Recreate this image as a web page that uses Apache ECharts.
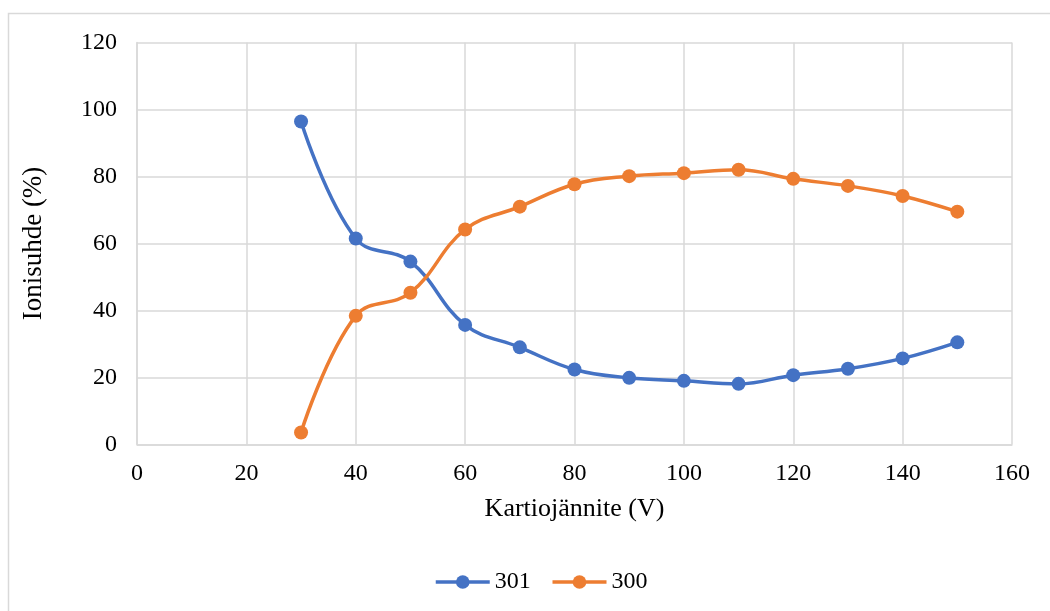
<!DOCTYPE html>
<html>
<head>
<meta charset="utf-8">
<style>
  html, body { margin: 0; padding: 0; background: #fff; }
  #chart { width: 1050px; height: 611px; }
</style>
<script src="https://cdn.jsdelivr.net/npm/echarts@6/dist/echarts.min.js"></script>
</head>
<body>
<div id="chart"></div>
<script>
// Cone voltage (V) and ion ratio (%) for the two ions
const voltages = [30, 40, 50, 60, 70, 80, 90, 100, 110, 120, 130, 140, 150];
const ion301 = [96.4, 61.5, 54.6, 35.7, 29.0, 22.4, 19.9, 19.0, 18.1, 20.7, 22.6, 25.7, 30.5];
const ion300 = [3.6, 38.4, 45.3, 64.2, 71.0, 77.7, 80.1, 81.0, 82.0, 79.3, 77.2, 74.2, 69.5];
const seriesNames = ['301', '300'];
const seriesColors = ['#4472C4', '#ED7D31'];

const font = 'Liberation Serif, "Times New Roman", serif';
const gridColor = '#d9d9d9';

const pairs = (ys) => voltages.map((v, i) => [v, ys[i]]);

const makeSeries = (name, ys, color) => ({
  name: name,
  type: 'line',
  data: pairs(ys),
  smooth: 0.4,
  symbol: 'circle',
  symbolSize: 14,
  lineStyle: { width: 3.5, color: color },
  itemStyle: { color: color },
  emphasis: { disabled: true },
  z: 3
});

const chart = echarts.init(document.getElementById('chart'), null, { renderer: 'canvas' });
chart.setOption({
  animation: false,
  backgroundColor: '#fff',
  graphic: [{
    type: 'rect',
    shape: { x: 8.5, y: 13.5, width: 1100, height: 700 },
    style: { fill: 'none', stroke: '#d9d9d9', lineWidth: 1.5 },
    silent: true,
    z: 0
  }],
  grid: { left: 137, right: 38, top: 42.5, bottom: 166.5, containLabel: false },
  legend: {
    data: seriesNames,
    top: 565,
    left: 429,
    itemWidth: 54,
    itemHeight: 17,
    itemGap: 20,
    lineStyle: { width: 3.5 },
    textStyle: { fontFamily: font, fontSize: 24, color: '#000' }
  },
  xAxis: {
    type: 'value',
    min: 0, max: 160, interval: 20,
    name: 'Kartiojännite (V)',
    nameLocation: 'middle',
    nameGap: 52,
    nameTextStyle: { fontFamily: font, fontSize: 26, color: '#000' },
    axisLine: { show: true, lineStyle: { color: gridColor, width: 1.5 } },
    axisTick: { show: false },
    axisLabel: { fontFamily: font, fontSize: 24, color: '#000', margin: 17 },
    splitLine: { show: true, lineStyle: { color: gridColor, width: 1.5 } }
  },
  yAxis: {
    type: 'value',
    min: 0, max: 120, interval: 20,
    name: 'Ionisuhde (%)',
    nameLocation: 'middle',
    nameGap: 90,
    nameTextStyle: { fontFamily: font, fontSize: 27, color: '#000' },
    axisLine: { show: true, lineStyle: { color: gridColor, width: 1.5 } },
    axisTick: { show: false },
    axisLabel: { fontFamily: font, fontSize: 24, color: '#000', margin: 20 },
    splitLine: { show: true, lineStyle: { color: gridColor, width: 1.5 } }
  },
  series: [
    makeSeries(seriesNames[0], ion301, seriesColors[0]),
    makeSeries(seriesNames[1], ion300, seriesColors[1])
  ]
});
</script>
</body>
</html>
